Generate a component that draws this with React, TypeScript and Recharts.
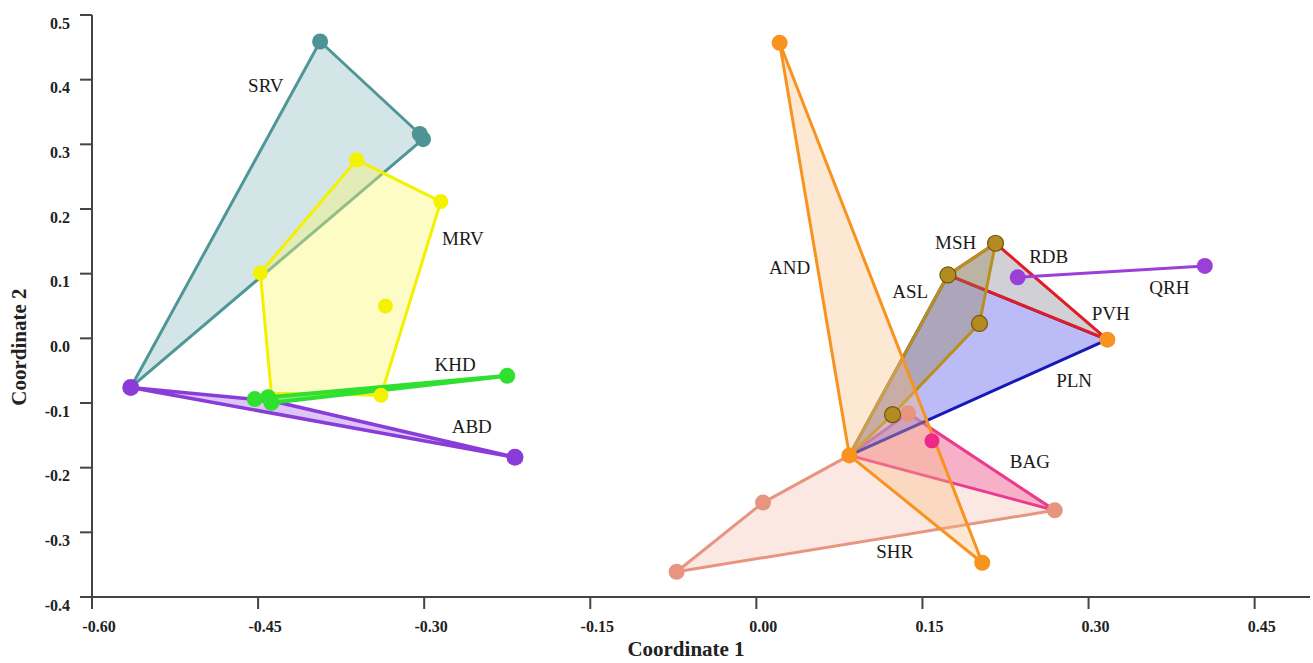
import React from 'react';
import { ScatterChart, Scatter, XAxis, YAxis, Label } from 'recharts';

type P = { x: number; y: number };
type L = { x: number; y: number; name: string };

const xTicks = [-0.6, -0.45, -0.3, -0.15, 0, 0.15, 0.3, 0.45];
const yTicks = [-0.4, -0.3, -0.2, -0.1, 0, 0.1, 0.2, 0.3, 0.4, 0.5];

// Hull vertices (convex hulls of each population)
const srvHull: P[] = [
  { x: -0.394, y: 0.459 },
  { x: -0.304, y: 0.316 },
  { x: -0.301, y: 0.308 },
  { x: -0.565, y: -0.076 },
];
const mrvHull: P[] = [
  { x: -0.448, y: 0.101 },
  { x: -0.361, y: 0.276 },
  { x: -0.285, y: 0.2115 },
  { x: -0.339, y: -0.088 },
  { x: -0.438, y: -0.085 },
];
const khdHull: P[] = [
  { x: -0.453, y: -0.094 },
  { x: -0.441, y: -0.091 },
  { x: -0.225, y: -0.058 },
  { x: -0.438, y: -0.0997 },
];
const abdHull: P[] = [
  { x: -0.565, y: -0.076 },
  { x: -0.437, y: -0.097 },
  { x: -0.218, y: -0.184 },
];
const andHull: P[] = [
  { x: 0.021, y: 0.457 },
  { x: 0.204, y: -0.347 },
  { x: 0.084, y: -0.181 },
];
const mshHull: P[] = [
  { x: 0.173, y: 0.098 },
  { x: 0.216, y: 0.147 },
  { x: 0.2015, y: 0.023 },
  { x: 0.123, y: -0.118 },
  { x: 0.084, y: -0.181 },
];
const rdbHull: P[] = [
  { x: 0.173, y: 0.098 },
  { x: 0.216, y: 0.147 },
  { x: 0.317, y: -0.002 },
];
const plnHull: P[] = [
  { x: 0.173, y: 0.098 },
  { x: 0.317, y: -0.002 },
  { x: 0.084, y: -0.181 },
];
const bagHull: P[] = [
  { x: 0.084, y: -0.181 },
  { x: 0.137, y: -0.116 },
  { x: 0.2695, y: -0.266 },
];
const shrHull: P[] = [
  { x: -0.072, y: -0.361 },
  { x: 0.006, y: -0.254 },
  { x: 0.084, y: -0.181 },
  { x: 0.137, y: -0.116 },
  { x: 0.2695, y: -0.266 },
];
const qrhHull: P[] = [
  { x: 0.236, y: 0.0944 },
  { x: 0.405, y: 0.112 },
];

// Individual points
const srvPts: P[] = [
  { x: -0.394, y: 0.459 },
  { x: -0.304, y: 0.316 },
  { x: -0.301, y: 0.308 },
];
const mrvPts: P[] = [
  { x: -0.448, y: 0.101 },
  { x: -0.361, y: 0.276 },
  { x: -0.285, y: 0.2115 },
  { x: -0.335, y: 0.05 },
  { x: -0.339, y: -0.088 },
];
const khdPts: P[] = [
  { x: -0.453, y: -0.094 },
  { x: -0.441, y: -0.091 },
  { x: -0.438, y: -0.0997 },
  { x: -0.225, y: -0.058 },
];
const abdPts: P[] = [
  { x: -0.565, y: -0.076 },
  { x: -0.218, y: -0.184 },
];
const shrPts: P[] = [
  { x: -0.072, y: -0.361 },
  { x: 0.006, y: -0.254 },
  { x: 0.137, y: -0.116 },
  { x: 0.2695, y: -0.266 },
];
const mshPts: P[] = [
  { x: 0.173, y: 0.098 },
  { x: 0.216, y: 0.147 },
  { x: 0.2015, y: 0.023 },
  { x: 0.123, y: -0.118 },
];
const bagPts: P[] = [{ x: 0.1586, y: -0.1585 }];
const andPts: P[] = [
  { x: 0.021, y: 0.457 },
  { x: 0.084, y: -0.181 },
  { x: 0.204, y: -0.347 },
  { x: 0.317, y: -0.002 },
];
const qrhPts: P[] = [
  { x: 0.236, y: 0.0944 },
  { x: 0.405, y: 0.112 },
];

const labels: L[] = [
  { x: -0.443, y: 0.391, name: 'SRV' },
  { x: -0.265, y: 0.154, name: 'MRV' },
  { x: -0.272, y: -0.041, name: 'KHD' },
  { x: -0.257, y: -0.137, name: 'ABD' },
  { x: 0.03, y: 0.109, name: 'AND' },
  { x: 0.18, y: 0.148, name: 'MSH' },
  { x: 0.264, y: 0.126, name: 'RDB' },
  { x: 0.139, y: 0.072, name: 'ASL' },
  { x: 0.373, y: 0.078, name: 'QRH' },
  { x: 0.32, y: 0.039, name: 'PVH' },
  { x: 0.287, y: -0.065, name: 'PLN' },
  { x: 0.247, y: -0.191, name: 'BAG' },
  { x: 0.125, y: -0.33, name: 'SHR' },
];

const SERIF = '"Liberation Serif", "DejaVu Serif", serif';

const hullLine = (stroke: string, fill: string, sw: number) => (props: any) => {
  const pts: { x: number; y: number }[] = props.points || [];
  if (!pts.length) return <g />;
  const d = pts.map((p, i) => `${i ? 'L' : 'M'}${p.x},${p.y}`).join(' ') + ' Z';
  return (
    <path d={d} fill={fill} stroke={stroke} strokeWidth={sw} strokeLinejoin="round" />
  );
};

const noShape = () => <g />;

const dot = (fill: string, r: number, stroke?: string) => (p: any) => (
  <circle
    cx={p.cx}
    cy={p.cy}
    r={r}
    fill={fill}
    stroke={stroke || 'none'}
    strokeWidth={stroke ? 1.2 : 0}
  />
);

const labelShape = (p: any) => (
  <text
    x={p.cx}
    y={p.cy}
    textAnchor="middle"
    dominantBaseline="central"
    fontFamily={SERIF}
    fontSize={19}
    fill="#1a1a1a"
  >
    {p.payload.name}
  </text>
);

const XTick = (p: any) => (
  <text
    x={p.x + 7}
    y={p.y + 15}
    textAnchor="middle"
    dominantBaseline="central"
    fontFamily={SERIF}
    fontWeight="bold"
    fontSize={16}
    fill="#222"
  >
    {Number(p.payload.value).toFixed(2)}
  </text>
);

const YTick = (p: any) => (
  <text
    x={p.x - 8}
    y={p.y + 8}
    textAnchor="end"
    dominantBaseline="central"
    fontFamily={SERIF}
    fontWeight="bold"
    fontSize={16}
    fill="#222"
  >
    {Number(p.payload.value).toFixed(1)}
  </text>
);

const XTitle = (p: any) => {
  const vb = p.viewBox || { x: 0, y: 0, width: 0, height: 0 };
  return (
    <text
      x={vb.x + vb.width / 2 - 15}
      y={vb.y + 52}
      textAnchor="middle"
      dominantBaseline="central"
      fontFamily={SERIF}
      fontWeight="bold"
      fontSize={21}
      fill="#222"
    >
      Coordinate 1
    </text>
  );
};

const YTitle = (p: any) => {
  const vb = p.viewBox || { x: 0, y: 0, width: 0, height: 0 };
  const cx = vb.x - 13;
  const cy = vb.y + vb.height / 2 + 41;
  return (
    <text
      x={cx}
      y={cy}
      transform={`rotate(-90 ${cx} ${cy})`}
      textAnchor="middle"
      dominantBaseline="central"
      fontFamily={SERIF}
      fontWeight="bold"
      fontSize={21}
      fill="#222"
    >
      Coordinate 2
    </text>
  );
};

export default function App() {
  return (
    <div style={{ position: 'absolute', left: 0, top: 0, background: '#fff' }}>
      <ScatterChart
        width={1313}
        height={663}
        margin={{ top: 15, right: 3, bottom: 16, left: 32 }}
      >
        <XAxis
          type="number"
          dataKey="x"
          domain={[-0.6, 0.5]}
          ticks={xTicks}
          interval={0}
          tick={<XTick />}
          tickSize={12}
          axisLine={{ stroke: '#444', strokeWidth: 2 }}
          tickLine={{ stroke: '#444', strokeWidth: 2 }}
          height={50}
          allowDataOverflow
        >
          <Label content={<XTitle />} />
        </XAxis>
        <YAxis
          type="number"
          dataKey="y"
          domain={[-0.4, 0.5]}
          ticks={yTicks}
          interval={0}
          tick={<YTick />}
          tickSize={12}
          axisLine={{ stroke: '#444', strokeWidth: 2 }}
          tickLine={{ stroke: '#444', strokeWidth: 2 }}
          width={60}
          allowDataOverflow
        >
          <Label content={<YTitle />} />
        </YAxis>

        {/* Hulls */}
        <Scatter data={srvHull} line={hullLine('#4f9797', 'rgba(95,160,170,0.27)', 3)} lineType="joint" shape={noShape} isAnimationActive={false} />
        <Scatter data={mrvHull} line={hullLine('#f3f000', 'rgba(250,248,110,0.4)', 3)} lineType="joint" shape={noShape} isAnimationActive={false} />
        <Scatter data={abdHull} line={hullLine('#8a3cd8', 'rgba(170,110,230,0.4)', 3.5)} lineType="joint" shape={noShape} isAnimationActive={false} />
        <Scatter data={khdHull} line={hullLine('#30e030', 'rgba(48,224,48,0.6)', 4)} lineType="joint" shape={noShape} isAnimationActive={false} />

        <Scatter data={shrHull} line={hullLine('#e8957f', 'rgba(242,180,160,0.3)', 3)} lineType="joint" shape={noShape} isAnimationActive={false} />
        <Scatter data={bagHull} line={hullLine('#ec3b8e', 'rgba(240,110,170,0.45)', 3)} lineType="joint" shape={noShape} isAnimationActive={false} />
        <Scatter data={plnHull} line={hullLine('#1818b8', 'rgba(120,120,240,0.5)', 3)} lineType="joint" shape={noShape} isAnimationActive={false} />
        <Scatter data={rdbHull} line={hullLine('#e31b23', 'rgba(170,170,180,0.55)', 3)} lineType="joint" shape={noShape} isAnimationActive={false} />
        <Scatter data={mshHull} line={hullLine('#b8901e', 'rgba(150,125,70,0.35)', 3)} lineType="joint" shape={noShape} isAnimationActive={false} />
        <Scatter data={andHull} line={hullLine('#f7931e', 'rgba(250,190,130,0.35)', 3)} lineType="joint" shape={noShape} isAnimationActive={false} />
        <Scatter data={qrhHull} line={hullLine('#9b3fd8', 'none', 3)} lineType="joint" shape={noShape} isAnimationActive={false} />

        {/* Points */}
        <Scatter data={srvPts} shape={dot('#4f9494', 8)} isAnimationActive={false} />
        <Scatter data={mrvPts} shape={dot('#f5f200', 7.5)} isAnimationActive={false} />
        <Scatter data={abdPts} shape={dot('#8a3cd8', 8.5)} isAnimationActive={false} />
        <Scatter data={khdPts} shape={dot('#2fe02f', 8)} isAnimationActive={false} />
        <Scatter data={shrPts} shape={dot('#e8957f', 8)} isAnimationActive={false} />
        <Scatter data={mshPts} shape={dot('#b38b1e', 8, '#6e5510')} isAnimationActive={false} />
        <Scatter data={bagPts} shape={dot('#f0288c', 7.5)} isAnimationActive={false} />
        <Scatter data={andPts} shape={dot('#f7931e', 8)} isAnimationActive={false} />
        <Scatter data={qrhPts} shape={dot('#9b3fd8', 8)} isAnimationActive={false} />

        {/* Population labels */}
        <Scatter data={labels} shape={labelShape} isAnimationActive={false} />
      </ScatterChart>
    </div>
  );
}
